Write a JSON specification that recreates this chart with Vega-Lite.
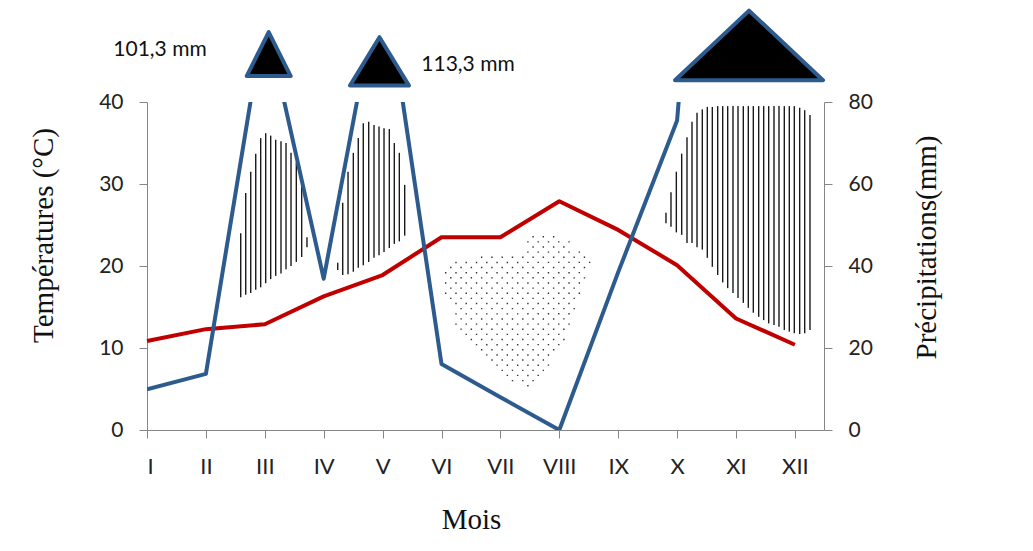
{
  "$schema": "https://vega.github.io/schema/vega-lite/v6.json",
  "width": 677,
  "height": 328,
  "autosize": "none",
  "padding": {"left": 147, "top": 102, "right": 209, "bottom": 121},
  "background": "white",
  "config": {
    "view": {"stroke": null},
    "font": "Lato",
    "axis": {
      "grid": false,
      "domainColor": "#868686",
      "tickColor": "#868686",
      "tickSize": 8,
      "labelColor": "#222222",
      "labelFont": "Lato",
      "labelFontSize": 21,
      "titleFont": "Liberation Serif",
      "titleFontSize": 29,
      "titleFontWeight": "normal",
      "titleColor": "#111111"
    }
  },
  "datasets": {
    "mois": [
      {"x": 1, "mois": "I", "temp": 10.85, "precip": 9.9},
      {"x": 2, "mois": "II", "temp": 12.3, "precip": 13.7},
      {"x": 3, "mois": "III", "temp": 12.9, "precip": 101.3},
      {"x": 4, "mois": "IV", "temp": 16.3, "precip": 36.9},
      {"x": 5, "mois": "V", "temp": 18.9, "precip": 113.3},
      {"x": 6, "mois": "VI", "temp": 23.5, "precip": 16.1},
      {"x": 7, "mois": "VII", "temp": 23.5, "precip": 8.0},
      {"x": 8, "mois": "VIII", "temp": 27.9, "precip": 0},
      {"x": 9, "mois": "IX", "temp": 24.4, "precip": 38.5},
      {"x": 10, "mois": "X", "temp": 20.1, "precip": 75.5},
      {"x": 11, "mois": "XI", "temp": 13.6, "precip": 250},
      {"x": 12, "mois": "XII", "temp": 10.4, "precip": 150}
    ],
    "hachures": [
      {"x": 2.591, "haut": 24.0, "bas": 16.2},
      {"x": 2.676, "haut": 28.9, "bas": 16.5},
      {"x": 2.761, "haut": 31.5, "bas": 16.7},
      {"x": 2.846, "haut": 33.7, "bas": 17.1},
      {"x": 2.930, "haut": 35.6, "bas": 17.4},
      {"x": 3.015, "haut": 36.2, "bas": 17.9},
      {"x": 3.100, "haut": 35.9, "bas": 18.4},
      {"x": 3.185, "haut": 35.4, "bas": 18.8},
      {"x": 3.275, "haut": 35.2, "bas": 19.1},
      {"x": 3.360, "haut": 35.0, "bas": 19.6},
      {"x": 3.445, "haut": 33.8, "bas": 20.0},
      {"x": 3.535, "haut": 32.6, "bas": 20.5},
      {"x": 3.626, "haut": 30.1, "bas": 21.1},
      {"x": 3.716, "haut": 23.5, "bas": 22.3},
      {"x": 4.238, "haut": 20.4, "bas": 19.5},
      {"x": 4.323, "haut": 27.7, "bas": 18.9},
      {"x": 4.413, "haut": 31.5, "bas": 19.0},
      {"x": 4.503, "haut": 33.8, "bas": 19.3},
      {"x": 4.587, "haut": 35.6, "bas": 19.8},
      {"x": 4.672, "haut": 37.4, "bas": 20.1},
      {"x": 4.764, "haut": 37.6, "bas": 20.5},
      {"x": 4.854, "haut": 37.2, "bas": 21.0},
      {"x": 4.939, "haut": 37.0, "bas": 21.3},
      {"x": 5.024, "haut": 36.8, "bas": 21.7},
      {"x": 5.114, "haut": 36.7, "bas": 22.2},
      {"x": 5.199, "haut": 35.0, "bas": 22.7},
      {"x": 5.284, "haut": 33.8, "bas": 23.0},
      {"x": 5.375, "haut": 29.9, "bas": 23.7},
      {"x": 9.811, "haut": 26.5, "bas": 25.2},
      {"x": 9.896, "haut": 29.0, "bas": 24.8},
      {"x": 9.987, "haut": 31.5, "bas": 24.1},
      {"x": 10.078, "haut": 33.7, "bas": 23.8},
      {"x": 10.168, "haut": 35.7, "bas": 22.8},
      {"x": 10.253, "haut": 37.6, "bas": 22.8},
      {"x": 10.338, "haut": 38.7, "bas": 22.3},
      {"x": 10.428, "haut": 39.1, "bas": 22.0},
      {"x": 10.513, "haut": 39.4, "bas": 21.0},
      {"x": 10.598, "haut": 39.4, "bas": 19.9},
      {"x": 10.689, "haut": 39.5, "bas": 18.9},
      {"x": 10.774, "haut": 39.5, "bas": 18.0},
      {"x": 10.859, "haut": 39.5, "bas": 17.3},
      {"x": 10.949, "haut": 39.5, "bas": 16.7},
      {"x": 11.034, "haut": 39.5, "bas": 16.1},
      {"x": 11.124, "haut": 39.5, "bas": 15.5},
      {"x": 11.209, "haut": 39.5, "bas": 14.9},
      {"x": 11.294, "haut": 39.5, "bas": 14.3},
      {"x": 11.385, "haut": 39.5, "bas": 13.8},
      {"x": 11.470, "haut": 39.5, "bas": 13.4},
      {"x": 11.555, "haut": 39.5, "bas": 13.0},
      {"x": 11.645, "haut": 39.5, "bas": 12.8},
      {"x": 11.730, "haut": 39.5, "bas": 12.6},
      {"x": 11.820, "haut": 39.5, "bas": 12.2},
      {"x": 11.905, "haut": 39.5, "bas": 12.0},
      {"x": 11.990, "haut": 39.5, "bas": 11.8},
      {"x": 12.081, "haut": 39.3, "bas": 11.7},
      {"x": 12.166, "haut": 39.0, "bas": 11.8},
      {"x": 12.256, "haut": 38.4, "bas": 12.2}
    ],
    "pointilles": [
      {"x": 6.071, "haut": 19.27, "bas": 16.60},
      {"x": 6.158, "haut": 19.90, "bas": 15.98},
      {"x": 6.246, "haut": 20.52, "bas": 12.84},
      {"x": 6.333, "haut": 19.90, "bas": 12.22},
      {"x": 6.420, "haut": 20.52, "bas": 11.59},
      {"x": 6.507, "haut": 19.90, "bas": 10.96},
      {"x": 6.595, "haut": 20.52, "bas": 10.34},
      {"x": 6.682, "haut": 21.15, "bas": 9.71},
      {"x": 6.769, "haut": 20.52, "bas": 9.08},
      {"x": 6.856, "haut": 21.15, "bas": 8.46},
      {"x": 6.944, "haut": 20.52, "bas": 7.83},
      {"x": 7.031, "haut": 21.15, "bas": 7.20},
      {"x": 7.118, "haut": 20.52, "bas": 6.58},
      {"x": 7.205, "haut": 21.15, "bas": 5.95},
      {"x": 7.293, "haut": 20.52, "bas": 6.58},
      {"x": 7.380, "haut": 21.15, "bas": 5.95},
      {"x": 7.467, "haut": 23.03, "bas": 5.32},
      {"x": 7.555, "haut": 23.66, "bas": 5.95},
      {"x": 7.642, "haut": 23.03, "bas": 6.58},
      {"x": 7.729, "haut": 23.66, "bas": 7.20},
      {"x": 7.816, "haut": 23.03, "bas": 7.83},
      {"x": 7.904, "haut": 23.66, "bas": 9.71},
      {"x": 7.991, "haut": 23.03, "bas": 10.34},
      {"x": 8.078, "haut": 22.41, "bas": 10.96},
      {"x": 8.165, "haut": 23.03, "bas": 12.84},
      {"x": 8.253, "haut": 21.15, "bas": 14.72},
      {"x": 8.340, "haut": 21.78, "bas": 16.60},
      {"x": 8.427, "haut": 21.15, "bas": 18.49},
      {"x": 8.515, "haut": 20.52, "bas": 20.36}
    ],
    "pics": [
      {"mois": "III", "x": 3.066, "y": 91.7},
      {"mois": "V", "x": 4.947, "y": 89.9},
      {"mois": "XI", "x": 11.221, "y": 93.8}
    ],
    "etiquettes": [
      {"x": 1.221, "y": 91.2, "texte": "101,3 mm"},
      {"x": 6.45, "y": 87.6, "texte": "113,3 mm"}
    ]
  },
  "encoding": {
    "x": {
      "field": "x", "type": "quantitative",
      "scale": {"domain": [1, 12.494], "nice": false, "zero": false},
      "axis": {
        "values": [1, 2, 3, 4, 5, 6, 7, 8, 9, 10, 11, 12],
        "labelExpr": "['I','II','III','IV','V','VI','VII','VIII','IX','X','XI','XII'][datum.value - 1]",
        "labelFontSize": 22,
        "labelPadding": 18,
        "title": "Mois",
        "titleX": 324,
        "titleY": 98,
        "titleBaseline": "alphabetic",
        "titleAlign": "center"
      }
    }
  },
  "layer": [
    {
      "data": {"name": "hachures"},
      "mark": {"type": "rule", "color": "#1a1a1a", "strokeWidth": 1.4},
      "encoding": {
        "y": {"field": "haut", "type": "quantitative", "scale": {"domain": [0, 40], "nice": false}, "axis": null},
        "y2": {"field": "bas"}
      }
    },
    {
      "data": {"name": "pointilles"},
      "mark": {"type": "rule", "color": "#333333", "strokeWidth": 1.4, "strokeDash": [1.4, 8.88], "strokeCap": "butt"},
      "encoding": {
        "y": {"field": "haut", "type": "quantitative", "scale": {"domain": [0, 40], "nice": false}, "axis": null},
        "y2": {"field": "bas"}
      }
    },
    {
      "data": {"name": "mois"},
      "mark": {"type": "line", "color": "#C00000", "strokeWidth": 4, "strokeJoin": "round"},
      "encoding": {
        "y": {
          "field": "temp", "type": "quantitative",
          "scale": {"domain": [0, 40], "nice": false},
          "axis": {
            "orient": "left",
            "values": [0, 10, 20, 30, 40],
            "labelPadding": 16,
            "title": "Températures (°C)",
            "titleAngle": -90,
            "titleX": -104,
            "titleY": 133,
            "titleBaseline": "middle",
            "titleAlign": "center"
          }
        }
      }
    },
    {
      "data": {"name": "mois"},
      "mark": {"type": "line", "color": "#2D5B8E", "strokeWidth": 4, "strokeJoin": "round", "clip": true},
      "encoding": {
        "y": {
          "field": "precip", "type": "quantitative",
          "scale": {"domain": [0, 80], "nice": false},
          "axis": {
            "orient": "right",
            "values": [0, 20, 40, 60, 80],
            "labelPadding": 16,
            "title": "Précipitations(mm)",
            "titleAngle": -90,
            "titleX": 102,
            "titleY": 145,
            "titleBaseline": "middle",
            "titleAlign": "center"
          }
        }
      }
    },
    {
      "data": {"name": "pics"},
      "transform": [{"filter": "datum.mois === 'III'"}],
      "mark": {"type": "point", "shape": "M-1,1L0,-1L1,1Z", "size": 1936, "filled": true, "fill": "#000000", "stroke": "#2D5B8E", "strokeWidth": 4, "strokeJoin": "round", "opacity": 1},
      "encoding": {
        "y": {"field": "y", "type": "quantitative", "scale": {"domain": [0, 80], "nice": false}, "axis": null}
      }
    },
    {
      "data": {"name": "pics"},
      "transform": [{"filter": "datum.mois === 'V'"}],
      "mark": {"type": "point", "shape": "M-1,0.82L0,-0.82L1,0.82Z", "size": 3481, "filled": true, "fill": "#000000", "stroke": "#2D5B8E", "strokeWidth": 4, "strokeJoin": "round", "opacity": 1},
      "encoding": {
        "y": {"field": "y", "type": "quantitative", "scale": {"domain": [0, 80], "nice": false}, "axis": null}
      }
    },
    {
      "data": {"name": "pics"},
      "transform": [{"filter": "datum.mois === 'XI'"}],
      "mark": {"type": "point", "shape": "M-1,0.47L0,-0.47L1,0.47Z", "size": 21904, "filled": true, "fill": "#000000", "stroke": "#2D5B8E", "strokeWidth": 4, "strokeJoin": "round", "opacity": 1},
      "encoding": {
        "y": {"field": "y", "type": "quantitative", "scale": {"domain": [0, 80], "nice": false}, "axis": null}
      }
    },
    {
      "data": {"name": "etiquettes"},
      "mark": {"type": "text", "font": "Lato", "fontSize": 21, "color": "#111111", "align": "center", "baseline": "alphabetic"},
      "encoding": {
        "y": {"field": "y", "type": "quantitative", "scale": {"domain": [0, 80], "nice": false}, "axis": null},
        "text": {"field": "texte"}
      }
    }
  ],
  "resolve": {"scale": {"y": "independent"}}
}
